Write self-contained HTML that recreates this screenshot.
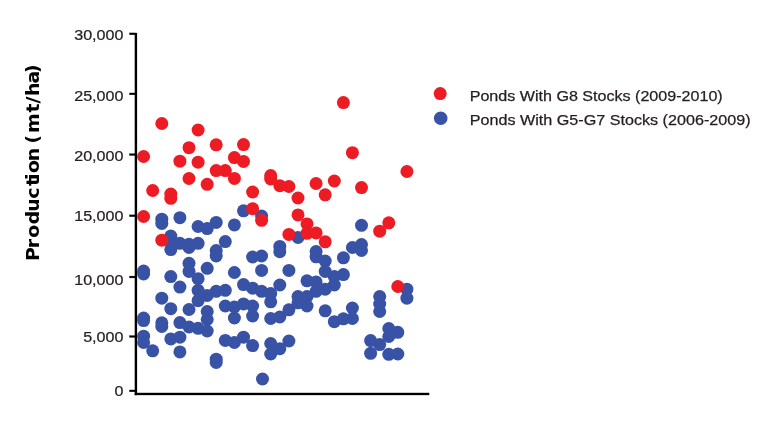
<!DOCTYPE html>
<html><head><meta charset="utf-8"><title>Production chart</title>
<style>
html,body{margin:0;padding:0;background:#fff;}
body{width:768px;height:430px;overflow:hidden;}
svg{display:block;}
text{font-family:"Liberation Sans",Arial,Helvetica,sans-serif;fill:#231f20;}
</style></head><body>
<svg width="768" height="430" viewBox="0 0 768 430">
<rect width="768" height="430" fill="#fff"/>
<g font-size="14.65" stroke="#231f20" stroke-width="0.25">
<rect x="129.4" y="32.90" width="6" height="1.9" fill="#000"/>
<text transform="translate(123.4,40.30) scale(1.1,1)" text-anchor="end">30,000</text>
<rect x="129.4" y="92.95" width="6" height="1.9" fill="#000"/>
<text transform="translate(123.4,100.50) scale(1.1,1)" text-anchor="end">25,000</text>
<rect x="129.4" y="153.65" width="6" height="1.9" fill="#000"/>
<text transform="translate(123.4,160.75) scale(1.1,1)" text-anchor="end">20,000</text>
<rect x="129.4" y="214.85" width="6" height="1.9" fill="#000"/>
<text transform="translate(123.4,221.20) scale(1.1,1)" text-anchor="end">15,000</text>
<rect x="129.4" y="276.05" width="6" height="1.9" fill="#000"/>
<text transform="translate(123.4,284.70) scale(1.1,1)" text-anchor="end">10,000</text>
<rect x="129.4" y="335.55" width="6" height="1.9" fill="#000"/>
<text transform="translate(123.4,341.50) scale(1.1,1)" text-anchor="end">5,000</text>
<rect x="129.4" y="389.95" width="6" height="1.9" fill="#000"/>
<text transform="translate(123.4,395.80) scale(1.1,1)" text-anchor="end">0</text>
</g>
<rect x="134.7" y="32.9" width="2.4" height="362.25" fill="#000"/>
<rect x="134.7" y="392.8" width="294.6" height="2.35" fill="#000"/>
<text transform="translate(39.45,259) rotate(-90) scale(1.08,1)" x="-1.85 10.00 19.63 32.22 43.70 55.74 67.59 73.15 79.72 90.56 103.70 107.04 116.67 135.56 143.89 150.93 162.59 172.22" font-size="17.5" font-weight="bold" style="font-family:'DejaVu Sans','Liberation Sans',sans-serif;fill:#000">Production (mt/ha)</text>
<g fill="#3852a6">
<circle cx="143.6" cy="271" r="6.5"/>
<circle cx="143.6" cy="274" r="6.5"/>
<circle cx="143.6" cy="318" r="6.5"/>
<circle cx="143.6" cy="320.6" r="6.5"/>
<circle cx="143.6" cy="336.2" r="6.5"/>
<circle cx="143.6" cy="342.5" r="6.5"/>
<circle cx="152.7" cy="350.8" r="6.5"/>
<circle cx="161.8" cy="219.2" r="6.5"/>
<circle cx="161.8" cy="223.4" r="6.5"/>
<circle cx="161.8" cy="298.2" r="6.5"/>
<circle cx="161.8" cy="322.8" r="6.5"/>
<circle cx="161.8" cy="326.5" r="6.5"/>
<circle cx="170.8" cy="236" r="6.5"/>
<circle cx="170.8" cy="242.3" r="6.5"/>
<circle cx="170.8" cy="249.6" r="6.5"/>
<circle cx="170.8" cy="276.6" r="6.5"/>
<circle cx="170.8" cy="308.7" r="6.5"/>
<circle cx="170.8" cy="338.9" r="6.5"/>
<circle cx="179.9" cy="217.7" r="6.5"/>
<circle cx="179.9" cy="243.3" r="6.5"/>
<circle cx="179.9" cy="287.1" r="6.5"/>
<circle cx="179.9" cy="322.6" r="6.5"/>
<circle cx="179.9" cy="337.2" r="6.5"/>
<circle cx="179.9" cy="351.9" r="6.5"/>
<circle cx="189.0" cy="244.3" r="6.5"/>
<circle cx="189.0" cy="247.5" r="6.5"/>
<circle cx="189.0" cy="263.3" r="6.5"/>
<circle cx="189.0" cy="271.4" r="6.5"/>
<circle cx="189.0" cy="309.5" r="6.5"/>
<circle cx="189.0" cy="327" r="6.5"/>
<circle cx="198.1" cy="226.5" r="6.5"/>
<circle cx="198.1" cy="243.3" r="6.5"/>
<circle cx="198.1" cy="278.7" r="6.5"/>
<circle cx="198.1" cy="290.3" r="6.5"/>
<circle cx="198.1" cy="300.7" r="6.5"/>
<circle cx="198.1" cy="328.3" r="6.5"/>
<circle cx="207.2" cy="228.6" r="6.5"/>
<circle cx="207.2" cy="268.3" r="6.5"/>
<circle cx="207.2" cy="295.5" r="6.5"/>
<circle cx="207.2" cy="311.5" r="6.5"/>
<circle cx="207.2" cy="319.5" r="6.5"/>
<circle cx="207.2" cy="331" r="6.5"/>
<circle cx="216.2" cy="222.4" r="6.5"/>
<circle cx="216.2" cy="250.6" r="6.5"/>
<circle cx="216.2" cy="256" r="6.5"/>
<circle cx="216.2" cy="291.3" r="6.5"/>
<circle cx="216.2" cy="359.2" r="6.5"/>
<circle cx="216.2" cy="362.4" r="6.5"/>
<circle cx="225.3" cy="241.6" r="6.5"/>
<circle cx="225.3" cy="290.3" r="6.5"/>
<circle cx="225.3" cy="306" r="6.5"/>
<circle cx="225.3" cy="340.4" r="6.5"/>
<circle cx="234.4" cy="224.9" r="6.5"/>
<circle cx="234.4" cy="272.5" r="6.5"/>
<circle cx="234.4" cy="307" r="6.5"/>
<circle cx="234.4" cy="318" r="6.5"/>
<circle cx="234.4" cy="342.5" r="6.5"/>
<circle cx="243.5" cy="210.8" r="6.5"/>
<circle cx="243.5" cy="284.6" r="6.5"/>
<circle cx="243.5" cy="303.9" r="6.5"/>
<circle cx="243.5" cy="337.2" r="6.5"/>
<circle cx="252.6" cy="257" r="6.5"/>
<circle cx="252.6" cy="288.2" r="6.5"/>
<circle cx="252.6" cy="306" r="6.5"/>
<circle cx="252.6" cy="316" r="6.5"/>
<circle cx="252.6" cy="345.6" r="6.5"/>
<circle cx="261.6" cy="216" r="6.5"/>
<circle cx="261.6" cy="256" r="6.5"/>
<circle cx="261.6" cy="270.4" r="6.5"/>
<circle cx="261.6" cy="291.3" r="6.5"/>
<circle cx="262.5" cy="379" r="6.5"/>
<circle cx="270.7" cy="293.4" r="6.5"/>
<circle cx="270.7" cy="301.8" r="6.5"/>
<circle cx="270.7" cy="318.5" r="6.5"/>
<circle cx="270.7" cy="343.5" r="6.5"/>
<circle cx="270.7" cy="354" r="6.5"/>
<circle cx="279.8" cy="246.4" r="6.5"/>
<circle cx="279.8" cy="251.7" r="6.5"/>
<circle cx="279.8" cy="285" r="6.5"/>
<circle cx="279.8" cy="317" r="6.5"/>
<circle cx="279.8" cy="348.7" r="6.5"/>
<circle cx="288.9" cy="270.4" r="6.5"/>
<circle cx="288.9" cy="309.8" r="6.5"/>
<circle cx="288.9" cy="341" r="6.5"/>
<circle cx="298.0" cy="237.5" r="6.5"/>
<circle cx="298.0" cy="296.5" r="6.5"/>
<circle cx="298.0" cy="302.8" r="6.5"/>
<circle cx="307.0" cy="280.8" r="6.5"/>
<circle cx="307.0" cy="296.5" r="6.5"/>
<circle cx="307.0" cy="306" r="6.5"/>
<circle cx="316.1" cy="251.5" r="6.5"/>
<circle cx="316.1" cy="256.8" r="6.5"/>
<circle cx="316.1" cy="281.9" r="6.5"/>
<circle cx="316.1" cy="291.3" r="6.5"/>
<circle cx="325.2" cy="261" r="6.5"/>
<circle cx="325.2" cy="271.4" r="6.5"/>
<circle cx="325.2" cy="289.2" r="6.5"/>
<circle cx="325.2" cy="310.8" r="6.5"/>
<circle cx="334.3" cy="276.6" r="6.5"/>
<circle cx="334.3" cy="285" r="6.5"/>
<circle cx="334.3" cy="321.7" r="6.5"/>
<circle cx="343.4" cy="257.8" r="6.5"/>
<circle cx="343.4" cy="274.6" r="6.5"/>
<circle cx="343.4" cy="318.8" r="6.5"/>
<circle cx="352.4" cy="247.5" r="6.5"/>
<circle cx="352.4" cy="308" r="6.5"/>
<circle cx="352.4" cy="318.5" r="6.5"/>
<circle cx="361.5" cy="225.3" r="6.5"/>
<circle cx="361.5" cy="244.5" r="6.5"/>
<circle cx="361.5" cy="250.5" r="6.5"/>
<circle cx="370.6" cy="340.6" r="6.5"/>
<circle cx="370.6" cy="353.3" r="6.5"/>
<circle cx="379.7" cy="296.5" r="6.5"/>
<circle cx="379.7" cy="304" r="6.5"/>
<circle cx="379.7" cy="311.5" r="6.5"/>
<circle cx="379.7" cy="344.6" r="6.5"/>
<circle cx="388.8" cy="328.5" r="6.5"/>
<circle cx="388.8" cy="336.5" r="6.5"/>
<circle cx="388.8" cy="354.3" r="6.5"/>
<circle cx="397.8" cy="332.3" r="6.5"/>
<circle cx="397.8" cy="354" r="6.5"/>
<circle cx="406.9" cy="289.2" r="6.5"/>
<circle cx="406.9" cy="298.2" r="6.5"/>
</g>
<g fill="#ed1c24">
<circle cx="143.6" cy="156.5" r="6.5"/>
<circle cx="143.6" cy="216.5" r="6.5"/>
<circle cx="152.7" cy="190.5" r="6.5"/>
<circle cx="161.8" cy="123.5" r="6.5"/>
<circle cx="161.8" cy="240.2" r="6.5"/>
<circle cx="170.8" cy="194.1" r="6.5"/>
<circle cx="170.8" cy="198.3" r="6.5"/>
<circle cx="179.9" cy="161.2" r="6.5"/>
<circle cx="189.0" cy="147.7" r="6.5"/>
<circle cx="189.0" cy="178.5" r="6.5"/>
<circle cx="198.1" cy="130" r="6.5"/>
<circle cx="198.1" cy="162.2" r="6.5"/>
<circle cx="207.2" cy="184.3" r="6.5"/>
<circle cx="216.2" cy="144.8" r="6.5"/>
<circle cx="216.2" cy="170.6" r="6.5"/>
<circle cx="225.3" cy="170.6" r="6.5"/>
<circle cx="234.4" cy="157.6" r="6.5"/>
<circle cx="234.4" cy="178.4" r="6.5"/>
<circle cx="243.5" cy="144.6" r="6.5"/>
<circle cx="243.5" cy="161.4" r="6.5"/>
<circle cx="252.6" cy="192" r="6.5"/>
<circle cx="252.6" cy="208.7" r="6.5"/>
<circle cx="261.6" cy="220.3" r="6.5"/>
<circle cx="270.7" cy="175.5" r="6.5"/>
<circle cx="270.7" cy="179" r="6.5"/>
<circle cx="279.8" cy="185.7" r="6.5"/>
<circle cx="288.9" cy="186.5" r="6.5"/>
<circle cx="288.9" cy="234.4" r="6.5"/>
<circle cx="298.0" cy="198" r="6.5"/>
<circle cx="298.0" cy="214.9" r="6.5"/>
<circle cx="307.0" cy="223.9" r="6.5"/>
<circle cx="307.0" cy="233.3" r="6.5"/>
<circle cx="316.1" cy="183.5" r="6.5"/>
<circle cx="316.1" cy="232.9" r="6.5"/>
<circle cx="325.2" cy="194.8" r="6.5"/>
<circle cx="325.2" cy="241.8" r="6.5"/>
<circle cx="334.3" cy="181" r="6.5"/>
<circle cx="343.4" cy="102.6" r="6.5"/>
<circle cx="352.4" cy="152.7" r="6.5"/>
<circle cx="361.5" cy="187.6" r="6.5"/>
<circle cx="379.7" cy="231.2" r="6.5"/>
<circle cx="388.8" cy="222.8" r="6.5"/>
<circle cx="397.8" cy="286.5" r="6.5"/>
<circle cx="406.9" cy="171.5" r="6.5"/>
</g>
<circle cx="440.2" cy="93.6" r="6.5" fill="#ed1c24"/>
<circle cx="440.7" cy="118.3" r="6.8" fill="#3852a6"/>
<g font-size="14.6" stroke="#231f20" stroke-width="0.25">
<text x="469.7" y="100.75" textLength="253" lengthAdjust="spacingAndGlyphs">Ponds With G8 Stocks (2009-2010)</text>
<text x="469.7" y="124.6" textLength="280.9" lengthAdjust="spacingAndGlyphs">Ponds With G5-G7 Stocks (2006-2009)</text>
</g>
</svg>
</body></html>
